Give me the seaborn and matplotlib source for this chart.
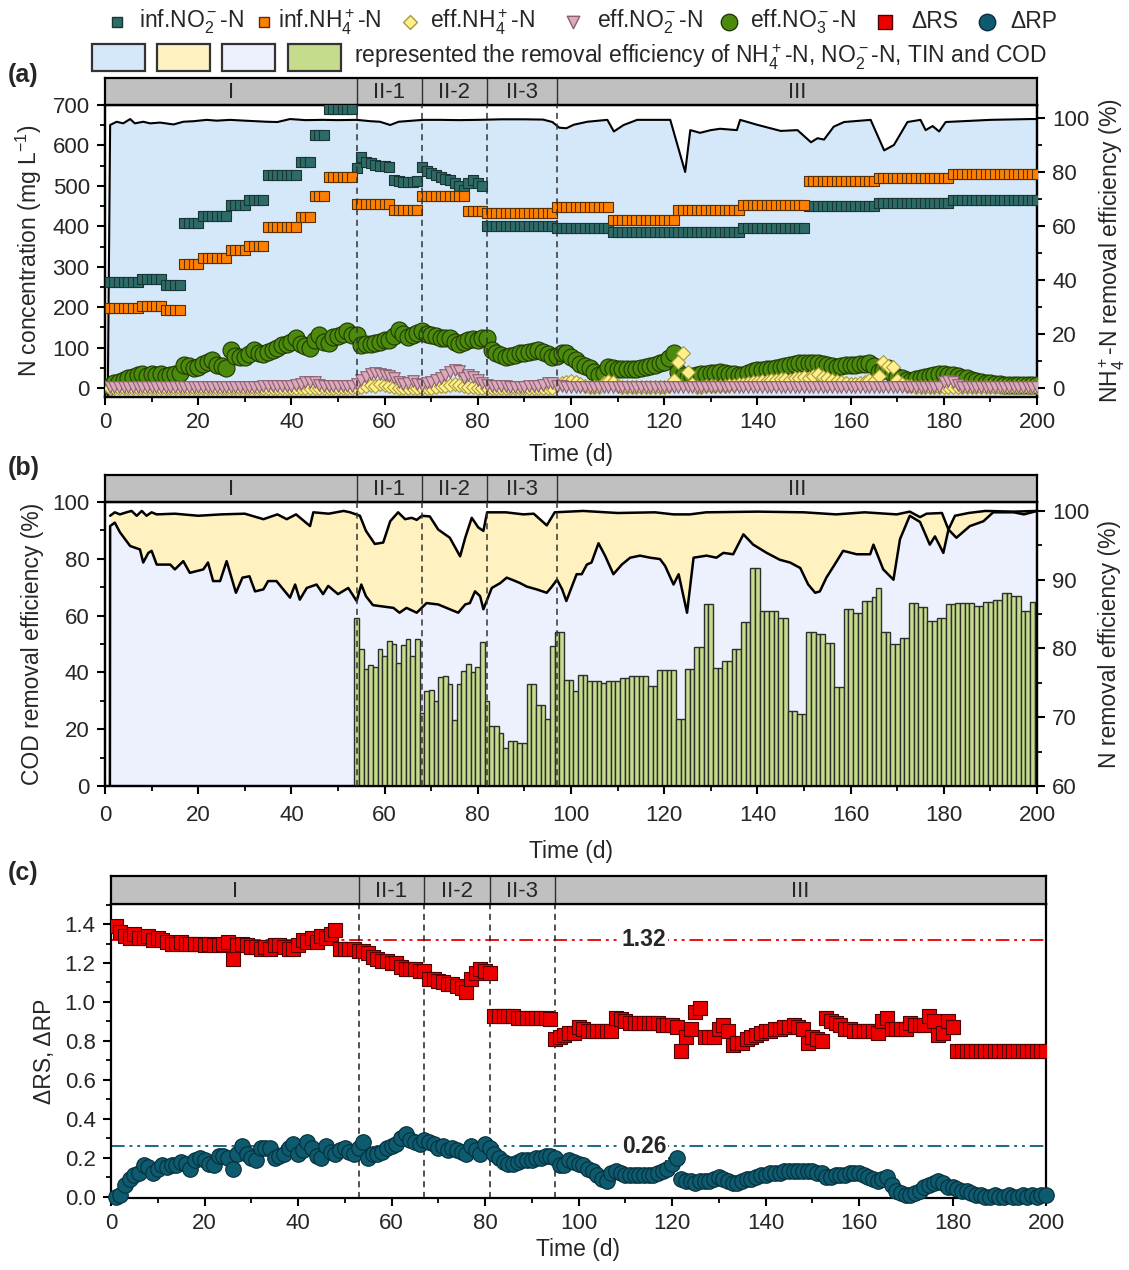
import numpy as np
import matplotlib
matplotlib.use('Agg')
import matplotlib.pyplot as plt
import seaborn as sns
from matplotlib.patches import Rectangle
from matplotlib.ticker import MultipleLocator

sns.set_style('ticks')
plt.rcParams['font.family'] = ['Liberation Sans', 'DejaVu Sans']
plt.rcParams['mathtext.fontset'] = 'custom'
plt.rcParams['mathtext.rm'] = 'Liberation Sans'
plt.rcParams['mathtext.it'] = 'Liberation Sans:italic'
plt.rcParams['mathtext.bf'] = 'Liberation Sans:bold'

# ---------------- data ----------------
stage_names = ['I', 'II-1', 'II-2', 'II-3', 'III']
stage_edges_ab = [0, 54, 68, 82, 97, 200]
stage_edges_c = [0, 53, 67, 81, 95, 200]

days = np.arange(1, 201)

# influent (step feeding), (first day, last day, mg/L)
inf_no2_steps = [(1, 7, 262), (8, 12, 270), (13, 16, 255), (17, 20, 407), (21, 26, 426),
                 (27, 30, 453), (31, 34, 465), (35, 41, 527), (42, 44, 560), (45, 47, 627),
                 (48, 53, 689), (54, 54, 545), (55, 55, 572), (56, 56, 560), (57, 57, 556),
                 (58, 58, 552), (59, 59, 550), (60, 60, 548), (61, 61, 547), (62, 62, 514),
                 (63, 63, 512), (64, 64, 510), (65, 65, 509), (66, 66, 510), (67, 67, 512),
                 (68, 68, 547), (69, 69, 537), (70, 70, 531), (71, 71, 528), (72, 72, 522),
                 (73, 73, 518), (74, 74, 514), (75, 75, 508), (76, 76, 500), (77, 77, 490),
                 (78, 78, 508), (79, 79, 514), (80, 80, 508), (81, 81, 500), (82, 96, 400),
                 (97, 108, 396), (109, 136, 387), (137, 150, 397), (151, 165, 450),
                 (166, 181, 457), (182, 200, 464)]
inf_nh4_steps = [(1, 7, 199), (8, 12, 204), (13, 16, 193), (17, 20, 307), (21, 26, 322),
                 (27, 30, 341), (31, 34, 351), (35, 41, 398), (42, 44, 424), (45, 47, 476),
                 (48, 53, 521), (54, 61, 454), (62, 67, 440), (68, 77, 476), (78, 81, 438),
                 (82, 96, 432), (97, 108, 448), (109, 122, 415), (123, 136, 441),
                 (137, 150, 452), (151, 165, 512), (166, 181, 520), (182, 200, 529)]

eff_no3 = [5, 12, 16, 20, 25, 28, 33, 36, 30, 34,
           32, 35, 30, 33, 36, 38, 57, 55, 50, 53,
           60, 65, 69, 58, 55, 49, 94, 80, 77, 77,
           85, 94, 88, 84, 90, 95, 100, 106, 110, 115,
           123, 110, 105, 98, 120, 131, 115, 112, 127, 130,
           135, 140, 132, 131, 106, 108, 110, 112, 115, 119,
           120, 130, 144, 135, 127, 132, 136, 140, 134, 131,
           128, 125, 124, 123, 115, 110, 114, 119, 121, 120,
           123, 125, 94, 88, 82, 77, 80, 83, 86, 88,
           90, 92, 94, 90, 85, 77, 80, 86, 86, 76,
           69, 60, 55, 49, 40, 32, 38, 53, 50, 48,
           46, 46, 47, 48, 49, 52, 55, 58, 61, 65,
           75, 86, 40, 30, 28, 30, 32, 34, 36, 37,
           38, 40, 38, 36, 34, 32, 33, 38, 42, 44,
           45, 47, 48, 49, 52, 55, 57, 59, 61, 62,
           63, 62, 61, 60, 58, 55, 53, 55, 56, 57,
           58, 59, 60, 61, 55, 40, 44, 49, 35, 28,
           24, 20, 18, 22, 26, 28, 30, 33, 36, 34,
           32, 32, 30, 26, 24, 20, 18, 15, 13, 12,
           10, 9, 8, 8, 7, 7, 7, 7, 7, 7]

eff_no2 = [2, 2, 2, 2, 2, 2, 2, 2, 2, 2,
           2, 2, 2, 2, 2, 2, 2, 2, 2, 2,
           2, 2, 2, 2, 2, 2, 2, 3, 3, 3,
           3, 3, 3, 4, 4, 5, 5, 6, 5, 6,
           8, 10, 15, 16, 14, 8, 6, 5, 5, 6,
           5, 5, 5, 10, 20, 28, 36, 38, 35, 32,
           30, 25, 15, 10, 12, 17, 10, 8, 12, 16,
           20, 24, 32, 40, 45, 43, 24, 32, 28, 20,
           12, 8, 5, 4, 4, 4, 3, 3, 3, 3,
           4, 4, 5, 8, 13, 12, 6, 4, 3, 3,
           2, 2, 2, 2, 2, 2, 2, 2, 2, 2,
           2, 2, 2, 2, 2, 2, 2, 2, 2, 2,
           2, 2, 2, 2, 2, 2, 2, 2, 2, 2,
           2, 2, 2, 2, 2, 2, 2, 2, 2, 2,
           2, 2, 2, 2, 2, 2, 2, 2, 2, 2,
           2, 2, 2, 2, 2, 2, 2, 2, 2, 2,
           2, 2, 2, 2, 2, 2, 2, 2, 2, 2,
           2, 2, 2, 2, 2, 2, 2, 2, 2, 15,
           18, 16, 8, 3, 2, 2, 2, 2, 2, 2,
           2, 2, 2, 2, 2, 2, 2, 2, 2, 2]

eff_nh4 = [1, 1, 1, 1, 1, 1, 1, 1, 1, 1,
           1, 1, 1, 1, 1, 1, 1, 1, 1, 1,
           1, 1, 1, 1, 1, 1, 1, 1, 1, 1,
           1, 1, 1, 1, 1, 1, 1, 1, 1, 1,
           1, 1, 1, 1, 1, 1, 1, 1, 1, 1,
           1, 1, 1, 1, 3, 5, 8, 6, 10, 8,
           4, 2, 1, 1, 1, 1, 1, 1, 1, 1,
           2, 4, 6, 8, 10, 8, 5, 3, 2, 1,
           1, 1, 1, 1, 1, 1, 1, 1, 1, 1,
           1, 1, 1, 1, 1, 1, 8, 12, 15, 18,
           14, 10, 5, 3, 2, 3, 12, 18, 15, 6,
           2, 2, 2, 3, 3, 3, 2, 2, 2, 3,
           4, 20, 65, 86, 40, 10, 3, 3, 4, 5,
           5, 6, 6, 7, 8, 9, 10, 12, 15, 16,
           18, 18, 20, 20, 22, 22, 20, 24, 26, 28,
           25, 30, 36, 28, 25, 20, 18, 15, 12, 10,
           10, 12, 15, 20, 18, 30, 65, 55, 53, 20,
           10, 6, 4, 3, 2, 2, 2, 2, 2, 2,
           2, 2, 2, 2, 2, 2, 2, 2, 2, 2,
           2, 2, 2, 2, 2, 2, 2, 2, 2, 2]

# NH4+-N removal efficiency (%)
nh4_re_days = [0.6, 1.1, 2.5, 3.9, 5.4, 6.4, 8.2, 9.7, 11.8, 14.7, 16.8, 19, 21.8, 24, 26.8,
               30, 34.7, 37, 39.7, 43, 46.8, 50, 54, 57, 59, 61.2, 63, 66, 68.3, 72, 76, 80,
               85, 90, 94, 96, 97.5, 99, 100.6, 103.5, 107.8, 109.2, 111.3, 114.2, 121.3,
               124.5, 125.6, 127.7, 130, 132, 135.6, 136.3, 139.9, 145, 148.6, 151.5, 152.9,
               154.3, 156.4, 158.6, 164.3, 167.2, 169.3, 172.2, 175, 176.1, 177.6, 179,
               180.4, 190, 198.7, 200]
nh4_re = [-3, 97.4, 98.6, 98.0, 99.6, 98.0, 98.6, 98.0, 98.3, 97.6, 98.6, 98.8, 99.3, 99.0,
          99.3, 99.0, 98.6, 98.5, 99.6, 99.2, 99.3, 99.2, 99.3, 98.8, 98.6, 97.4, 98.6, 99.0,
          99.3, 99.3, 99.2, 99.3, 99.5, 99.5, 99.4, 98.5, 96.4, 96.2, 97.5, 98.6, 99.3, 95.0,
          97.4, 99.3, 99.3, 80.0, 95.5, 94.5, 95.5, 96.0, 95.5, 99.3, 97.5, 95.2, 95.5, 91.0,
          92.5, 92.0, 96.8, 98.5, 99.3, 88.0, 90.0, 98.5, 99.3, 95.5, 97.0, 95.0, 98.5, 99.3,
          99.6, 99.6]

# NO2--N removal efficiency (%)
no2_re_days = [1.1, 2.1, 3.2, 4.6, 5.7, 6.8, 7.9, 8.9, 10, 11.1, 15, 20, 25, 30, 34, 37, 39,
               41, 44, 44.7, 48, 51.2, 52.6, 54.7, 56, 57.9, 59.7, 61.2, 62.9, 64.4, 65.8,
               66.9, 68, 69.7, 71.5, 74, 76.2, 77.3, 78.7, 80.1, 81.2, 82, 86, 89.8, 92,
               94.8, 96.5, 102.6, 110, 118, 122, 125.5, 129, 140, 150, 156.9, 163, 169.9,
               172.7, 174.9, 176.3, 179.6, 181, 182.4, 185.3, 188.9, 195, 200]
no2_re = [99.3, 99.8, 99.5, 99.8, 100, 99.3, 100, 99.3, 99.8, 99.5, 99.6, 99.3, 99.5, 99.6,
          98.8, 99.5, 98.8, 99.5, 97.8, 99.8, 99.6, 100, 99.8, 99.3, 97.1, 95.2, 95.4, 98.5,
          99.8, 98.8, 99.0, 98.7, 99.3, 99.2, 97.3, 96.1, 93.4, 96.1, 99.0, 97.6, 97.1, 99.8,
          99.8, 99.5, 99.6, 97.9, 99.8, 100, 99.7, 99.8, 99.5, 99.5, 99.8, 99.9, 99.8, 99.5,
          99.8, 99.5, 99.9, 99.1, 99.6, 99.7, 97.3, 99.3, 99.7, 100, 99.9, 100]

# TIN removal efficiency (%)
tin_re_days = [1.05, 1.1, 2.1, 3.2, 5.4, 7.5, 8.2, 9.3, 10, 11.1, 14, 15, 16.8, 18.2, 21.1,
               22.1, 23.2, 24.7, 26.1, 28.1, 29.5, 31, 32.2, 34, 35, 36.8, 39.7, 40.8, 41.8,
               43.3, 45.4, 46.8, 47.9, 50, 52.2, 54, 55, 56, 57.5, 59.7, 61.9, 63.2, 64.7,
               66.9, 69, 71.5, 74, 75.8, 77.3, 78.3, 79.4, 80.5, 81.2, 81.9, 83, 84.8, 86.2,
               87.7, 89.1, 90.5, 92.6, 94.8, 95.9, 97, 98.1, 99, 101.2, 102.3, 103.4, 104.4,
               105.9, 107.3, 109.1, 110.9, 112.7, 114.8, 117, 119.1, 120.2, 122, 123.1,
               124.9, 126.3, 129.1, 131.2, 132.7, 134.8, 137, 139.1, 142, 144.8, 147,
               149.2, 150.9, 152.4, 153.4, 154.8, 156.3, 158.4, 161.3, 164.2, 164.9, 167,
               169.2, 170.6, 172.7, 174.9, 177, 178.1, 179.9, 181, 182.7, 185.6, 188.5,
               190.6, 195, 197.2, 200]
tin_re = [60, 97.8, 98.3, 96.9, 94.9, 94.4, 92.5, 93.9, 94.2, 92.2, 92.2, 91.5, 92.7, 91.0,
          91.5, 92.5, 89.8, 89.8, 92.7, 88.1, 90.3, 90.5, 88.3, 88.6, 89.8, 89.8, 87.4, 89.3,
          87.1, 88.8, 89.3, 87.9, 89.1, 87.9, 88.8, 86.9, 89.3, 87.6, 86.3, 86.1, 85.9, 85.2,
          85.9, 85.2, 86.6, 86.4, 85.7, 85.2, 86.4, 86.6, 88.3, 87.6, 85.7, 86.9, 88.8, 89.5,
          90.3, 89.9, 89.5, 89.0, 88.6, 88.1, 89.0, 90.0, 88.6, 86.9, 90.8, 90.8, 92.2, 92.5,
          95.3, 93.5, 90.8, 92.2, 93.2, 93.5, 93.2, 93.0, 92.0, 89.3, 90.8, 85.2, 93.2, 93.5,
          93.2, 93.9, 93.7, 96.6, 95.1, 93.9, 92.9, 92.5, 91.7, 89.3, 88.1, 88.3, 90.3, 91.9,
          94.2, 93.7, 93.7, 95.1, 91.5, 90.0, 95.9, 99.3, 98.4, 95.1, 96.3, 93.9, 97.3, 96.1,
          97.8, 98.5, 99.8, 99.8, 99.5, 100]

# COD removal efficiency (%)
cod_days = np.arange(54, 201)
cod_re = [59.0, 48.4, 41.3, 42.5, 41.8, 48.4, 45.7, 51.2, 50.0, 43.3,
          49.6, 51.6, 45.7, 51.6, 25.7, 33.3, 33.8, 29.8, 38.4, 38.6,
          35.9, 23.3, 35.9, 40.4, 43.0, 40.2, 42.0, 50.8, 29.8, 21.0,
          21.0, 18.6, 13.5, 15.9, 15.7, 15.1, 15.1, 35.9, 35.9, 28.4,
          28.4, 23.7, 49.2, 54.3, 54.3, 37.5, 37.5, 33.6, 39.2, 39.2,
          37.1, 37.1, 37.1, 36.3, 36.9, 36.9, 36.9, 38.0, 38.2, 38.6,
          38.6, 38.6, 38.6, 35.1, 35.1, 41.0, 41.0, 41.0, 41.0, 23.7,
          23.7, 41.3, 41.3, 48.9, 48.9, 64.0, 64.0, 41.6, 41.6, 43.9,
          43.9, 48.4, 48.4, 57.8, 57.8, 76.7, 76.7, 61.6, 61.6, 61.6,
          61.6, 59.0, 59.0, 26.5, 26.5, 25.3, 25.3, 54.3, 54.3, 53.4,
          53.4, 50.4, 50.4, 34.7, 34.7, 62.2, 62.2, 61.0, 61.0, 65.1,
          65.1, 66.5, 69.8, 54.3, 54.3, 50.0, 50.0, 52.2, 52.2, 64.5,
          64.5, 63.1, 63.1, 58.1, 58.1, 59.0, 59.0, 64.0, 64.0, 64.5,
          64.5, 64.5, 64.5, 63.4, 63.4, 64.7, 64.7, 65.4, 65.4, 68.1,
          68.1, 66.9, 66.9, 61.6, 61.6, 64.7, 64.7]

drs = [1.39, 1.36, 1.34, 1.33, 1.35, 1.33, 1.33, 1.34, 1.32, 1.33,
       1.32, 1.31, 1.30, 1.30, 1.31, 1.30, 1.30, 1.30, 1.30, 1.29,
       1.30, 1.29, 1.29, 1.30, 1.31, 1.22, 1.29, 1.30, 1.29, 1.28,
       1.28, 1.27, 1.28, 1.27, 1.29, 1.29, 1.28, 1.27, 1.27, 1.29,
       1.32, 1.31, 1.33, 1.31, 1.34, 1.33, 1.35, 1.37, 1.27, 1.27,
       1.27, 1.27, 1.26, 1.26, 1.25, 1.23, 1.22, 1.21, 1.21, 1.20,
       1.20, 1.18, 1.17, 1.17, 1.17, 1.16, 1.16, 1.12, 1.12, 1.11,
       1.10, 1.09, 1.09, 1.08, 1.07, 1.05, 1.12, 1.15, 1.17, 1.16,
       1.15, 0.93, 0.93, 0.93, 0.93, 0.93, 0.92, 0.92, 0.92, 0.92,
       0.92, 0.92, 0.92, 0.91, 0.81, 0.82, 0.83, 0.84, 0.84, 0.87,
       0.86, 0.85, 0.85, 0.85, 0.85, 0.85, 0.85, 0.92, 0.91, 0.90,
       0.89, 0.89, 0.89, 0.89, 0.89, 0.89, 0.89, 0.88, 0.88, 0.88,
       0.87, 0.75, 0.82, 0.86, 0.95, 0.97, 0.82, 0.82, 0.82, 0.86,
       0.88, 0.85, 0.78, 0.79, 0.79, 0.81, 0.82, 0.83, 0.84, 0.85,
       0.85, 0.86, 0.86, 0.87, 0.87, 0.88, 0.87, 0.86, 0.79, 0.82,
       0.81, 0.80, 0.92, 0.90, 0.89, 0.88, 0.86, 0.86, 0.85, 0.85,
       0.85, 0.85, 0.85, 0.84, 0.90, 0.92, 0.86, 0.86, 0.86, 0.86,
       0.89, 0.88, 0.88, 0.88, 0.93, 0.90, 0.83, 0.84, 0.90, 0.87,
       0.75, 0.75, 0.75, 0.75, 0.75, 0.75, 0.75, 0.75, 0.75, 0.75,
       0.75, 0.75, 0.75, 0.75, 0.75, 0.75, 0.75, 0.75, 0.75, 0.75]

drp = [0.00, 0.01, 0.06, 0.09, 0.11, 0.12, 0.16, 0.15, 0.12, 0.14,
       0.16, 0.15, 0.16, 0.16, 0.18, 0.17, 0.14, 0.19, 0.20, 0.19,
       0.17, 0.16, 0.21, 0.21, 0.20, 0.14, 0.22, 0.26, 0.22, 0.20,
       0.19, 0.25, 0.25, 0.25, 0.20, 0.21, 0.22, 0.25, 0.27, 0.22,
       0.24, 0.28, 0.25, 0.21, 0.20, 0.26, 0.23, 0.22, 0.24, 0.25,
       0.23, 0.22, 0.25, 0.28, 0.20, 0.22, 0.22, 0.23, 0.25, 0.26,
       0.27, 0.30, 0.32, 0.29, 0.28, 0.27, 0.29, 0.28, 0.27, 0.25,
       0.26, 0.24, 0.25, 0.24, 0.23, 0.22, 0.26, 0.24, 0.22, 0.27,
       0.25, 0.22, 0.20, 0.18, 0.17, 0.17, 0.18, 0.19, 0.19, 0.19,
       0.20, 0.20, 0.21, 0.21, 0.20, 0.16, 0.16, 0.19, 0.18, 0.17,
       0.16, 0.14, 0.13, 0.11, 0.09, 0.08, 0.12, 0.13, 0.12, 0.11,
       0.11, 0.11, 0.11, 0.11, 0.11, 0.11, 0.12, 0.13, 0.14, 0.17,
       0.20, 0.09, 0.08, 0.08, 0.07, 0.08, 0.08, 0.08, 0.09, 0.10,
       0.09, 0.08, 0.07, 0.07, 0.08, 0.09, 0.09, 0.10, 0.11, 0.11,
       0.12, 0.12, 0.12, 0.13, 0.13, 0.13, 0.13, 0.13, 0.13, 0.13,
       0.12, 0.12, 0.10, 0.10, 0.11, 0.11, 0.11, 0.12, 0.12, 0.12,
       0.11, 0.10, 0.09, 0.08, 0.09, 0.10, 0.06, 0.03, 0.02, 0.01,
       0.01, 0.02, 0.03, 0.05, 0.06, 0.07, 0.08, 0.07, 0.05, 0.05,
       0.04, 0.03, 0.03, 0.02, 0.01, 0.01, 0.00, 0.00, 0.01, 0.00,
       0.00, 0.01, 0.00, 0.00, 0.01, 0.00, 0.01, 0.00, 0.01, 0.01]

rs_ref, rp_ref = 1.32, 0.26

# ---------------- helpers ----------------
W, H = 1129, 1270
FS = 16
FL = 16.5
C_NO2IN, C_NH4IN = '#2e6a66', '#ff8000'
C_NH4EFF, C_NO2EFF, C_NO3EFF = '#fff08a', '#dcaabb', '#4b8a0c'
C_RS, C_RP = '#ee0000', '#0e5a6e'
C_BLUE, C_YEL, C_LAV, C_BAR = '#d4e8fa', '#fff2c0', '#edf0fd', '#c5dc8c'


def box(l, t, r, b):
    return [l / W, 1 - b / H, (r - l) / W, (b - t) / H]


def steps(table):
    d, v = [], []
    for a, b, val in table:
        for k in range(a, b + 1):
            d.append(k)
            v.append(val)
    return np.array(d), np.array(v)


def style_ax(ax):
    for s in ax.spines.values():
        s.set_linewidth(1.6)
        s.set_color('black')
    ax.tick_params(which='major', direction='out', length=6, width=1.5, labelsize=FS,
                   color='black', pad=5)
    ax.tick_params(which='minor', direction='out', length=3.5, width=1.3, color='black')


def stage_band(rect, edges):
    axb = fig.add_axes(rect)
    axb.set_xlim(0, 200)
    axb.set_ylim(0, 1)
    axb.set_facecolor('#c0c0c0')
    axb.set_xticks([])
    axb.set_yticks([])
    for s in axb.spines.values():
        s.set_linewidth(1.6)
        s.set_color('black')
    for e in edges[1:-1]:
        axb.axvline(e, color='#303030', lw=1.0)
    for name, a, b in zip(stage_names, edges[:-1], edges[1:]):
        axb.text((a + b) / 2, 0.45, name, ha='center', va='center', fontsize=FS)
    return axb


def xaxis(ax, pad=8):
    ax.set_xlim(0, 200)
    ax.xaxis.set_major_locator(MultipleLocator(20))
    ax.xaxis.set_minor_locator(MultipleLocator(10))
    ax.set_xlabel('Time (d)', fontsize=FL, labelpad=pad)


fig = plt.figure(figsize=(W / 100, H / 100), dpi=100)

# ---------------- legend (top) ----------------
axl = fig.add_axes([0, 0, 1, 1])
axl.set_xlim(0, W)
axl.set_ylim(H, 0)
axl.axis('off')
row1 = [(117, 's', 45, C_NO2IN, '#173634', 139, r'inf.NO$_2^-$-N'),
        (264, 's', 45, C_NH4IN, '#5a3000', 278, r'inf.NH$_4^+$-N'),
        (410, 'D', 50, C_NH4EFF, '#a89a40', 430, r'eff.NH$_4^+$-N'),
        (573, 'v', 80, C_NO2EFF, '#8a6070', 597, r'eff.NO$_2^-$-N'),
        (729, 'o', 140, C_NO3EFF, '#1f3a00', 750, r'eff.NO$_3^-$-N'),
        (885, 's', 110, C_RS, '#500000', 911, r'ΔRS'),
        (987, 'o', 140, C_RP, '#052f3c', 1010, r'ΔRP')]
for mx, mk, ms, fc, ec, tx, lab in row1:
    axl.scatter([mx], [22], marker=mk, s=ms, color=fc, edgecolor=ec, linewidth=1.0, clip_on=False)
    axl.text(tx, 22, lab, fontsize=FL, va='center', ha='left')
for x0, fc in zip([92, 157, 222, 288], [C_BLUE, C_YEL, C_LAV, C_BAR]):
    axl.add_patch(Rectangle((x0, 44), 53, 27, facecolor=fc, edgecolor='#333333', lw=1.6))
axl.text(354, 57, r'represented the removal efficiency of NH$_4^+$-N, NO$_2^-$-N, TIN and COD',
         fontsize=FL, va='center', ha='left')
for y, lab in [(75, '(a)'), (468, '(b)'), (873, '(c)')]:
    axl.text(8, y, lab, fontsize=FS + 2, fontweight='bold', va='center', ha='left')

# ---------------- panel (a) ----------------
ax_a = fig.add_axes(box(105, 105, 1037, 397))
ax_a2 = ax_a.twinx()
ax_a.set_zorder(2)
ax_a.patch.set_visible(False)
ax_a2.fill_between(nh4_re_days, nh4_re, -10, color=C_BLUE, lw=0)
sns.lineplot(x=nh4_re_days, y=nh4_re, ax=ax_a2, color='black', lw=1.5, estimator=None, sort=False)
ax_a2.set_ylim(-3.3, 104.8)
ax_a2.yaxis.set_major_locator(MultipleLocator(20))
ax_a2.yaxis.set_minor_locator(MultipleLocator(10))
ax_a2.set_ylabel(r'NH$_4^+$-N removal efficiency (%)', fontsize=FL, labelpad=6)

d_no2, v_no2 = steps(inf_no2_steps)
d_nh4, v_nh4 = steps(inf_nh4_steps)
sns.scatterplot(x=d_no2, y=v_no2, ax=ax_a, marker='s', s=42, color=C_NO2IN,
                edgecolor='#173634', linewidth=0.8, zorder=3, legend=False)
sns.scatterplot(x=d_nh4, y=v_nh4, ax=ax_a, marker='s', s=42, color=C_NH4IN,
                edgecolor='#5a3000', linewidth=0.8, zorder=3, legend=False)
sns.scatterplot(x=days, y=eff_no3, ax=ax_a, marker='o', s=150, color=C_NO3EFF,
                edgecolor='#1f3a00', linewidth=0.8, zorder=4, legend=False)
sns.scatterplot(x=days, y=eff_nh4, ax=ax_a, marker='D', s=50, color=C_NH4EFF,
                edgecolor='#a89a40', linewidth=0.8, zorder=5, legend=False)
sns.scatterplot(x=days, y=eff_no2, ax=ax_a, marker='v', s=70, color=C_NO2EFF,
                edgecolor='#8a6070', linewidth=0.8, zorder=6, legend=False)
for e in stage_edges_ab[1:-1]:
    ax_a.axvline(e, color='#333333', ls=(0, (4, 3)), lw=1.1, zorder=7)
ax_a.set_ylim(-22, 700)
ax_a.yaxis.set_major_locator(MultipleLocator(100))
ax_a.yaxis.set_minor_locator(MultipleLocator(50))
ax_a.set_ylabel(r'N concentration (mg L$^{-1}$)', fontsize=FL, labelpad=6)
xaxis(ax_a, pad=7)
style_ax(ax_a)
style_ax(ax_a2)
stage_band(box(105, 78, 1037, 105), stage_edges_ab)

# ---------------- panel (b) ----------------
ax_b = fig.add_axes(box(105, 502, 1037, 786))
ax_b2 = ax_b.twinx()
ax_b.set_zorder(2)
ax_b.patch.set_visible(False)
ax_b2.fill_between(no2_re_days, no2_re, 50, color=C_YEL, lw=0)
ax_b2.fill_between(tin_re_days, tin_re, 50, color=C_LAV, lw=0)
sns.lineplot(x=no2_re_days, y=no2_re, ax=ax_b2, color='black', lw=1.8, estimator=None, sort=False)
sns.lineplot(x=tin_re_days, y=tin_re, ax=ax_b2, color='black', lw=1.8, estimator=None, sort=False)
ax_b2.set_ylim(60, 101.3)
ax_b2.yaxis.set_major_locator(MultipleLocator(10))
ax_b2.yaxis.set_minor_locator(MultipleLocator(5))
ax_b2.set_ylabel('N removal efficiency (%)', fontsize=FL, labelpad=6)

ax_b.bar(cod_days, cod_re, width=1.0, color=C_BAR, edgecolor='#2e2e2e', lw=1.0, zorder=2)
for e in stage_edges_ab[1:-1]:
    ax_b.axvline(e, color='#333333', ls=(0, (4, 3)), lw=1.1, zorder=7)
ax_b.set_ylim(0, 100)
ax_b.yaxis.set_major_locator(MultipleLocator(20))
ax_b.yaxis.set_minor_locator(MultipleLocator(10))
ax_b.set_ylabel('COD removal efficiency (%)', fontsize=FL, labelpad=6)
xaxis(ax_b, pad=10)
style_ax(ax_b)
style_ax(ax_b2)
ax_b.tick_params(axis='x', pad=8)
stage_band(box(105, 475, 1037, 502), stage_edges_ab)

# ---------------- panel (c) ----------------
ax_c = fig.add_axes(box(111, 904, 1046, 1198))
ax_c.axhline(rs_ref, color='#ee1111', ls=(0, (7, 2.5, 1.5, 2.5, 1.5, 2.5)), lw=1.4, zorder=1)
ax_c.axhline(rp_ref, color='#1a6a80', ls=(0, (7, 2.5, 1.5, 2.5, 1.5, 2.5)), lw=1.4, zorder=1)
sns.scatterplot(x=days, y=drs, ax=ax_c, marker='s', s=95, color=C_RS,
                edgecolor='#500000', linewidth=0.8, zorder=3, legend=False)
sns.scatterplot(x=days, y=drp, ax=ax_c, marker='o', s=125, color=C_RP,
                edgecolor='#052f3c', linewidth=0.8, zorder=3, legend=False, clip_on=False)
for val in [rs_ref, rp_ref]:
    ax_c.text(114, val, f'{val:.2f}', fontsize=FL, fontweight='bold', ha='center', va='center',
              zorder=4, bbox=dict(facecolor='white', edgecolor='none', pad=1.5))
for e in stage_edges_c[1:-1]:
    ax_c.axvline(e, color='#222222', ls=(0, (4, 3)), lw=1.1, zorder=2)
ax_c.set_ylim(-0.007, 1.503)
ax_c.yaxis.set_major_locator(MultipleLocator(0.2))
ax_c.yaxis.set_minor_locator(MultipleLocator(0.1))
ax_c.yaxis.set_major_formatter(matplotlib.ticker.FormatStrFormatter('%.1f'))
ax_c.set_ylabel('ΔRS, ΔRP', fontsize=FL, labelpad=6)
xaxis(ax_c, pad=3)
style_ax(ax_c)
ax_c.tick_params(axis='x', pad=5)
stage_band(box(111, 876, 1046, 904), stage_edges_c)

fig.savefig('out.png', dpi=100)
